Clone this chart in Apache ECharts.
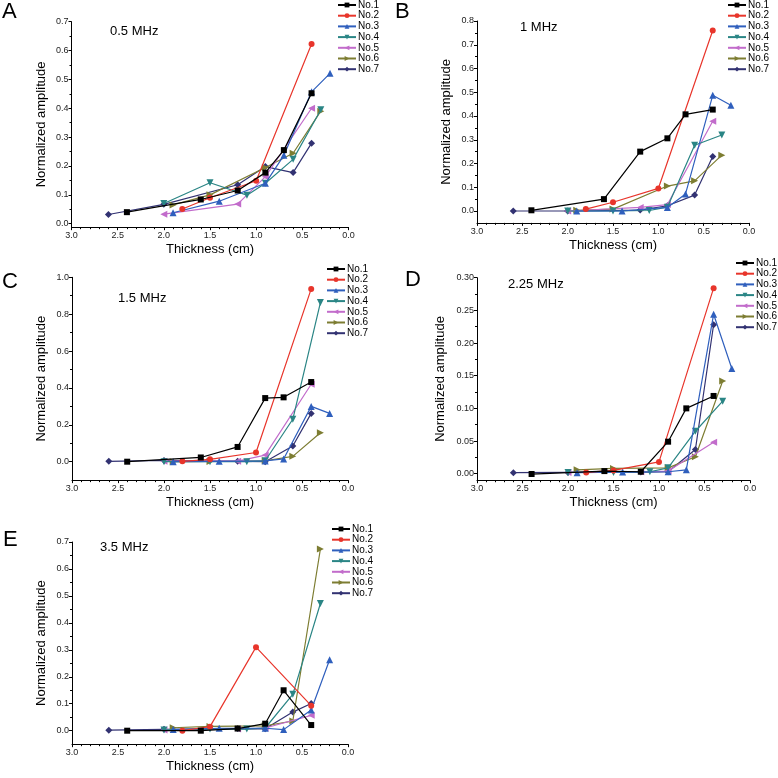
<!DOCTYPE html>
<html>
<head>
<meta charset="utf-8">
<script src="https://cdn.jsdelivr.net/npm/echarts@6/dist/echarts.min.js"></script>
<style>
html,body{margin:0;padding:0;background:#fff;}
#chart{width:778px;height:778px;}
</style>
</head>
<body>
<div id="chart"></div>
<script>
// ---- Data ----
const seriesNames = ['No.1', 'No.2', 'No.3', 'No.4', 'No.5', 'No.6', 'No.7'];
const panelLetters = ['A', 'B', 'C', 'D', 'E'];
const panelFreqs = ['0.5 MHz', '1 MHz', '1.5 MHz', '2.25 MHz', '3.5 MHz'];

// thickness (cm) of each sample's measurements
const thickNo1 = [2.4, 1.6, 1.2, 0.9, 0.7, 0.4];
const thickNo2 = [1.8, 1.5, 1.0, 0.4];
const thickNo3 = [1.9, 1.4, 0.9, 0.7, 0.4, 0.2];
const thickNo4 = [2.0, 1.5, 1.1, 0.9, 0.6, 0.3];
const thickNo5 = [2.0, 1.2, 0.9, 0.4];
const thickNo6 = [1.9, 1.5, 0.9, 0.6, 0.3];
const thickNo7 = [2.6, 2.0, 1.2, 0.9, 0.6, 0.4];

// normalized amplitude, one row per sample (No.1 .. No.7)
const ampA = [
  [0.040, 0.084, 0.115, 0.177, 0.255, 0.452],
  [0.051, 0.090, 0.149, 0.623],
  [0.038, 0.078, 0.140, 0.237, 0.457, 0.521],
  [0.070, 0.142, 0.099, 0.140, 0.223, 0.395],
  [0.033, 0.068, 0.163, 0.400],
  [0.065, 0.100, 0.195, 0.244, 0.390],
  [0.032, 0.067, 0.135, 0.198, 0.177, 0.279]
];
const ampB = [
  [0.003, 0.050, 0.250, 0.306, 0.407, 0.427],
  [0.008, 0.037, 0.095, 0.760],
  [0.000, 0.000, 0.015, 0.072, 0.487, 0.445],
  [0.000, 0.000, 0.002, 0.016, 0.277, 0.320],
  [0.000, 0.015, 0.027, 0.378],
  [0.003, 0.008, 0.105, 0.127, 0.235],
  [0.000, 0.000, 0.004, 0.022, 0.067, 0.229]
];
const ampC = [
  [0.000, 0.023, 0.080, 0.345, 0.349, 0.432],
  [0.002, 0.013, 0.050, 0.937],
  [0.000, 0.002, 0.004, 0.015, 0.300, 0.262],
  [0.000, 0.000, 0.000, 0.005, 0.230, 0.863],
  [0.003, 0.003, 0.036, 0.420],
  [0.000, 0.001, 0.005, 0.029, 0.157],
  [0.002, 0.007, 0.002, 0.000, 0.085, 0.262]
];
const ampD = [
  [-0.0005, 0.004, 0.003, 0.049, 0.100, 0.119],
  [0.002, 0.005, 0.018, 0.284],
  [0.0015, 0.0025, 0.003, 0.006, 0.244, 0.161],
  [0.002, 0.002, 0.003, 0.009, 0.065, 0.111],
  [0.002, 0.003, 0.004, 0.048],
  [0.006, 0.008, 0.009, 0.026, 0.142],
  [0.0015, 0.002, 0.0025, 0.003, 0.037, 0.228]
];
const ampE = [
  [0.000, 0.000, 0.008, 0.026, 0.150, 0.021],
  [0.000, 0.015, 0.310, 0.093],
  [0.004, 0.009, 0.009, 0.004, 0.077, 0.263],
  [0.003, 0.006, 0.006, 0.010, 0.135, 0.472],
  [0.003, 0.006, 0.010, 0.057],
  [0.011, 0.016, 0.018, 0.036, 0.674],
  [0.002, 0.005, 0.008, 0.007, 0.069, 0.101]
];

// axis tick labels
const xTickLabels = [0.0, 0.5, 1.0, 1.5, 2.0, 2.5, 3.0];
const yTicksA = [0, 0.1, 0.2, 0.3, 0.4, 0.5, 0.6, 0.7];
const yTicksB = [0, 0.1, 0.2, 0.3, 0.4, 0.5, 0.6, 0.7, 0.8];
const yTicksC = [0, 0.2, 0.4, 0.6, 0.8, 1.0];
const yTicksD = [0, 0.05, 0.10, 0.15, 0.20, 0.25, 0.30];
const yTicksE = [0, 0.1, 0.2, 0.3, 0.4, 0.5, 0.6, 0.7];

// ---- Styling / layout ----
const thickAll = [thickNo1, thickNo2, thickNo3, thickNo4, thickNo5, thickNo6, thickNo7];
const ampAll = [ampA, ampB, ampC, ampD, ampE];
const yTicksAll = [yTicksA, yTicksB, yTicksC, yTicksD, yTicksE];
const colors = ['#000000', '#e8352b', '#2f5fbd', '#2a8585', '#c26ccb', '#7d7d32', '#323272'];
const symbols = ['rect', 'circle', 'triangle', 'triangle', 'triangle', 'triangle', 'diamond'];
const rotations = [0, 0, 0, 180, 90, -90, 0];
const symSizes = [6, 6, 7, 7, 7, 7, 7];

// per-panel layout
const layout = [
  {left: 71.5, right: 348.5, top: 21.7, y0: 223.7, ymax: 0.7, ymin: -0.012, dec: 1, legL: 337, legT: 0, letX: 2, letY: 1, fX: 110, fY: 25, yGap: 24},
  {left: 477, right: 749, top: 21, y0: 211, ymax: 0.8, ymin: -0.05, dec: 1, legL: 727, legT: 0, letX: 395, letY: 1, fX: 520, fY: 21, yGap: 24},
  {left: 72, right: 348, top: 277.3, y0: 461.7, ymax: 1.0, ymin: -0.1, dec: 1, legL: 326, legT: 264, letX: 2, letY: 271, fX: 118, fY: 292, yGap: 24},
  {left: 477, right: 750, top: 277.7, y0: 473.7, ymax: 0.30, ymin: -0.01, dec: 2, legL: 735, legT: 258, letX: 405, letY: 269, fX: 508, fY: 278, yGap: 30},
  {left: 72, right: 348, top: 542, y0: 730.7, ymax: 0.7, ymin: -0.05, dec: 1, legL: 331, legT: 524, letX: 3, letY: 529, fX: 100, fY: 541, yGap: 24}
];

const font = "'Liberation Sans', Arial, Helvetica, sans-serif";
const grids = [], xAxes = [], yAxes = [], series = [], legends = [], titles = [];
const minorGrids = [], minorX = [], minorY = [];
const nP = layout.length;

layout.forEach((L, i) => {
  const width = L.right - L.left;
  const height = (L.y0 - L.top) * (L.ymax - L.ymin) / L.ymax;
  const g = {left: L.left, top: L.top, width: width, height: height};
  grids.push(g);
  minorGrids.push(Object.assign({}, g));
  xAxes.push({
    gridIndex: i, type: 'value', min: 0, max: 3, interval: 0.5, inverse: true,
    axisLine: {onZero: false, lineStyle: {color: '#000', width: 1}},
    axisTick: {length: 3, lineStyle: {color: '#000', width: 1}},
    minorTick: {show: true, splitNumber: 5, length: 2, lineStyle: {color: '#000', width: 1}},
    splitLine: {show: false}, minorSplitLine: {show: false},
    axisLabel: {fontSize: 9, color: '#222', fontFamily: font, margin: 4,
      formatter: v => (xTickLabels.indexOf(+v.toFixed(1)) >= 0 ? v.toFixed(1) : '')},
    name: 'Thickness (cm)', nameLocation: 'middle', nameGap: 16,
    nameTextStyle: {fontSize: 13, color: '#000', fontFamily: font}
  });
  const majors = yTicksAll[i];
  const minors = [];
  for (let k = 0; k < majors.length - 1; k++) minors.push(+((majors[k] + majors[k + 1]) / 2).toFixed(4));
  yAxes.push({
    gridIndex: i, type: 'value', position: 'left', min: L.ymin, max: L.ymax,
    axisLine: {show: true, onZero: false, lineStyle: {color: '#000', width: 1}},
    axisTick: {show: true, length: 3, customValues: majors, lineStyle: {color: '#000', width: 1}},
    axisLabel: {customValues: majors, fontSize: 9, color: '#222', fontFamily: font, margin: 3,
      formatter: v => (+v).toFixed(L.dec)},
    splitLine: {show: false},
    name: 'Normalized amplitude', nameLocation: 'middle', nameGap: L.yGap,
    nameTextStyle: {fontSize: 13, color: '#000', fontFamily: font}
  });
  // overlay grid carrying only the minor y ticks
  minorX.push({gridIndex: nP + i, type: 'value', min: 0, max: 3, show: false});
  minorY.push({
    gridIndex: nP + i, type: 'value', position: 'left', min: L.ymin, max: L.ymax,
    axisLine: {show: false, onZero: false},
    axisTick: {show: true, length: 2, customValues: minors, lineStyle: {color: '#000', width: 1}},
    axisLabel: {show: false}, splitLine: {show: false}
  });
  seriesNames.forEach((nm, s) => {
    series.push({
      type: 'line', name: nm, xAxisIndex: i, yAxisIndex: i,
      data: thickAll[s].map((t, k) => [t, ampAll[i][s][k]]),
      symbol: symbols[s], symbolSize: symSizes[s], symbolRotate: rotations[s],
      itemStyle: {color: colors[s]}, lineStyle: {color: colors[s], width: 1.2},
      z: 10 - s, animation: false, clip: false
    });
  });
  legends.push({
    data: seriesNames, orient: 'vertical', left: L.legL, top: L.legT, padding: 0,
    itemWidth: 18, itemHeight: 6, itemGap: 0.7, selectedMode: false,
    textStyle: {fontSize: 10, lineHeight: 10, color: '#000', fontFamily: font, padding: [0, 0, 0, -3]}
  });
  titles.push({text: panelLetters[i], left: L.letX, top: L.letY, padding: 0,
    textStyle: {fontSize: 22, fontWeight: 'normal', color: '#000', fontFamily: font}});
  titles.push({text: panelFreqs[i], left: L.fX, top: L.fY, padding: 0,
    textStyle: {fontSize: 13, fontWeight: 'normal', color: '#000', fontFamily: font}});
});

const chart = echarts.init(document.getElementById('chart'), null, {renderer: 'canvas'});
chart.setOption({
  animation: false,
  backgroundColor: '#fff',
  title: titles,
  grid: grids.concat(minorGrids),
  xAxis: xAxes.concat(minorX),
  yAxis: yAxes.concat(minorY),
  legend: legends,
  series: series
});
</script>
</body>
</html>
